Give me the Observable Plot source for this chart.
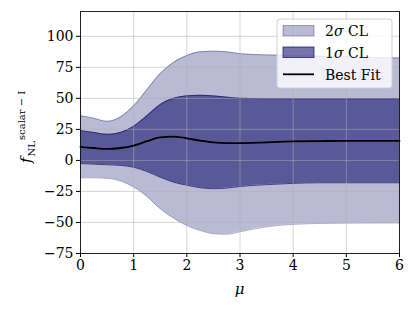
<!DOCTYPE html>
<html>
<head>
<meta charset="utf-8">
<script src="https://cdn.jsdelivr.net/npm/d3@7"></script>
<script src="https://cdn.jsdelivr.net/npm/@observablehq/plot@0.6"></script>
<style>
  html, body { margin: 0; padding: 0; background: #fff; }
  #chart { position: relative; width: 415px; height: 311px; }
  #chart svg text { font-family: "DejaVu Serif" !important; }
</style>
</head>
<body>
<div id="chart"></div>
<script>
const mu     = [0, 0.25, 0.5, 0.75, 1, 1.25, 1.5, 1.75, 2, 2.25, 2.5, 2.75, 3, 3.5, 4, 4.5, 5, 5.5, 6];
const best   = [11, 10, 9.3, 10, 12, 15.5, 18.5, 19.2, 17.8, 16, 14.5, 14, 14, 14.6, 15.3, 15.6, 15.8, 15.8, 15.8];
const hi1    = [24, 22.5, 21, 22.5, 27.5, 36, 45, 50, 52, 52.5, 52, 51, 50, 49.7, 49.6, 49.6, 49.6, 49.6, 49.6];
const lo1    = [-2.5, -3, -3.5, -4, -5.5, -9, -13.5, -17.5, -20, -22, -22.8, -22.3, -21, -19.5, -18.5, -18, -18, -18, -18];
const hi2    = [36, 34, 31.5, 35, 44, 57, 70, 79, 84.5, 87.5, 88, 87.5, 86, 85, 84.5, 84, 83.5, 83, 82.5];
const lo2    = [-14, -14, -14.5, -16.5, -21.5, -29, -39, -46.5, -52.5, -56.5, -59, -59.5, -57.5, -53.5, -51.5, -50.8, -50.5, -50.4, -50.4];
const xTicks = [0, 1, 2, 3, 4, 5, 6];
const yTicks = [-75, -50, -25, 0, 25, 50, 75, 100];
const legendLabels = ["2σ CL", "1σ CL", "Best Fit"];

const data = mu.map((m, i) => ({mu: m, best: best[i], hi1: hi1[i], lo1: lo1[i], hi2: hi2[i], lo2: lo2[i]}));

const navy = "#191970";
const curve = "monotone-x";
const serif = "DejaVu Serif";

const plot = Plot.plot({
  width: 415,
  height: 311,
  marginLeft: 80,
  marginRight: 16,
  marginTop: 11,
  marginBottom: 58,
  style: {fontFamily: serif, fontSize: "14px", background: "#fff", color: "#000"},
  x: {domain: [0, 6]},
  y: {domain: [-75, 120]},
  marks: [
    Plot.areaY(data, {x: "mu", y1: "lo2", y2: "hi2", fill: navy, fillOpacity: 0.3, curve}),
    Plot.line(data, {x: "mu", y: "hi2", stroke: navy, strokeOpacity: 0.35, strokeWidth: 1, curve}),
    Plot.line(data, {x: "mu", y: "lo2", stroke: navy, strokeOpacity: 0.35, strokeWidth: 1, curve}),
    Plot.areaY(data, {x: "mu", y1: "lo1", y2: "hi1", fill: navy, fillOpacity: 0.6, curve}),
    Plot.line(data, {x: "mu", y: "hi1", stroke: navy, strokeOpacity: 0.75, strokeWidth: 1, curve}),
    Plot.line(data, {x: "mu", y: "lo1", stroke: navy, strokeOpacity: 0.75, strokeWidth: 1, curve}),
    Plot.gridX(xTicks, {stroke: "#b0b0b0", strokeOpacity: 0.5, strokeWidth: 1}),
    Plot.gridY(yTicks, {stroke: "#b0b0b0", strokeOpacity: 0.5, strokeWidth: 1}),
    Plot.line(data, {x: "mu", y: "best", stroke: "#000", strokeWidth: 1.8, curve}),
    Plot.frame({stroke: "#000", strokeWidth: 1, strokeOpacity: 0.85}),
    Plot.axisX(xTicks, {tickSize: 4, tickPadding: 3, label: null, fontSize: 14, fontFamily: serif, strokeWidth: 1}),
    Plot.axisY(yTicks, {tickSize: 4, tickPadding: 3, label: null, fontSize: 14, fontFamily: serif, strokeWidth: 1})
  ]
});

document.getElementById("chart").appendChild(plot);
const svg = d3.select(plot);
svg.selectAll("text").style("font-family", serif);

// x label
svg.append("text")
  .attr("x", 239.5).attr("y", 294)
  .attr("text-anchor", "middle")
  .attr("font-family", serif).attr("font-style", "italic").attr("font-size", 15)
  .text("μ");

// y label with sub/superscripts
const yl = svg.append("text")
  .attr("transform", "translate(31,163) rotate(-90)")
  .attr("text-anchor", "start")
  .attr("font-family", serif).attr("font-size", 15);
yl.append("tspan").attr("font-style", "italic").text("f");
yl.append("tspan").attr("font-size", 10).attr("dy", 4).attr("dx", 1).text("NL");
yl.append("tspan").attr("font-size", 10).attr("dy", -10).attr("dx", 1).text("scalar − I");

// legend
const lg = svg.append("g").attr("font-family", serif).attr("font-size", 14).attr("text-anchor", "start");
lg.append("rect").attr("x", 277).attr("y", 19).attr("width", 115).attr("height", 69)
  .attr("rx", 3).attr("fill", "#fff").attr("fill-opacity", 0.8).attr("stroke", "#d0d0d0");
lg.append("rect").attr("x", 283).attr("y", 25.5).attr("width", 31).attr("height", 10.5)
  .attr("fill", navy).attr("fill-opacity", 0.3).attr("stroke", navy).attr("stroke-opacity", 0.35);
lg.append("rect").attr("x", 283).attr("y", 47).attr("width", 31).attr("height", 10.5)
  .attr("fill", navy).attr("fill-opacity", 0.6).attr("stroke", navy).attr("stroke-opacity", 0.75);
lg.append("line").attr("x1", 283).attr("x2", 314).attr("y1", 74.3).attr("y2", 74.3)
  .attr("stroke", "#000").attr("stroke-width", 1.8);
const rowsY = [36, 57.5, 79.5];
legendLabels.forEach((lab, i) => {
  const t = lg.append("text").attr("x", 325).attr("y", rowsY[i]).attr("text-anchor", "start");
  if (lab.includes("σ")) {
    const [a, b] = lab.split("σ");
    t.append("tspan").text(a);
    t.append("tspan").attr("font-style", "italic").text("σ");
    t.append("tspan").text(b);
  } else {
    t.text(lab);
  }
});
</script>
</body>
</html>
